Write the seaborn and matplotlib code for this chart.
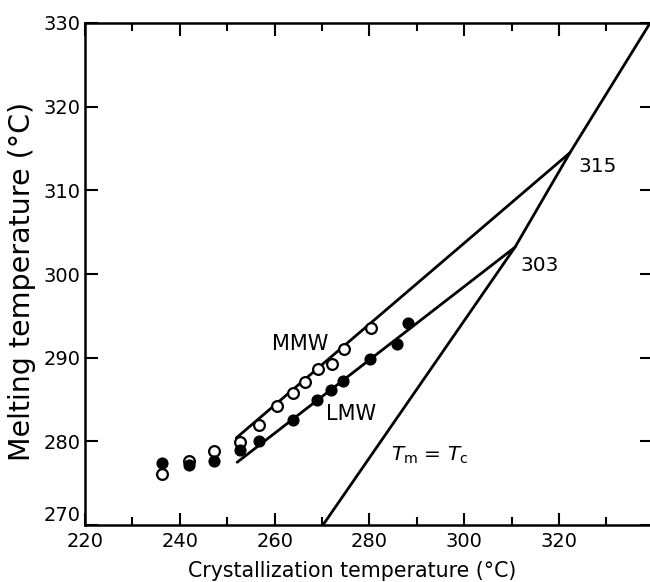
import matplotlib
matplotlib.use('Agg')
import matplotlib.pyplot as plt
import seaborn as sns
from matplotlib.ticker import MultipleLocator

# ---- data ----
mmw_tc = [236.3, 241.9, 247.3, 252.7, 256.6, 260.4, 263.8, 266.5, 269.2, 272.0, 274.7, 280.3]
mmw_tm = [276.1, 277.7, 278.8, 279.9, 282.0, 284.2, 285.8, 287.1, 288.6, 289.3, 291.0, 293.5]
lmw_tc = [236.3, 241.9, 247.3, 252.7, 256.6, 263.8, 268.9, 271.8, 274.5, 280.1, 285.8, 288.2]
lmw_tm = [277.4, 277.2, 277.7, 279.0, 280.0, 282.5, 284.9, 286.1, 287.2, 289.9, 291.6, 294.2]

mmw_fit_tc = [251.9, 322.3]
mmw_fit_tm = [280.4, 314.5]
lmw_fit_tc = [252.1, 310.7]
lmw_fit_tm = [277.5, 303.2]
eq_tc = [270.2, 310.7, 322.3, 339.2]
eq_tm = [270.0, 303.2, 314.5, 330.0]

x_ticks = [220, 240, 260, 280, 300, 320]
y_ticks = [270, 280, 290, 300, 310, 320, 330]

sns.set_style('ticks')
plt.rcParams['font.family'] = ['DejaVu Sans']
plt.rcParams['mathtext.fontset'] = 'dejavusans'
plt.rcParams['text.color'] = 'black'
plt.rcParams['axes.labelcolor'] = 'black'
plt.rcParams['xtick.color'] = 'black'
plt.rcParams['ytick.color'] = 'black'

fig = plt.figure(figsize=(6.5, 5.82), dpi=100)
ax = fig.add_axes([85 / 650, 57 / 582, 567 / 650, 502 / 582])

lw = 2.0
for xs, ys in [(mmw_fit_tc, mmw_fit_tm), (lmw_fit_tc, lmw_fit_tm), (eq_tc, eq_tm)]:
    sns.lineplot(x=xs, y=ys, ax=ax, color='black', linewidth=lw, sort=False,
                 estimator=None, zorder=2)

sns.scatterplot(x=mmw_tc, y=mmw_tm, ax=ax, marker='o', s=60, facecolor='white',
                edgecolor='black', linewidth=1.6, zorder=3)
sns.scatterplot(x=lmw_tc, y=lmw_tm, ax=ax, marker='o', s=60, color='black',
                edgecolor='black', linewidth=1.0, zorder=4)

ax.set_xlim(220, 339.6)
ax.set_ylim(270, 330)
ax.set_xticks(x_ticks)
ax.set_yticks(y_ticks)
ax.xaxis.set_minor_locator(MultipleLocator(10))
ax.tick_params(axis='both', which='major', direction='in', length=9, width=1.5,
               labelsize=14, top=True, right=True, color='black',
               labelcolor='black')
ax.tick_params(axis='x', which='minor', direction='in', length=6, width=1.5,
               top=True, color='black')
ax.tick_params(axis='x', which='major', pad=5)
ax.tick_params(axis='y', which='major', pad=3)
for sp in ax.spines.values():
    sp.set_linewidth(1.8)
    sp.set_color('black')
ax.get_yticklabels()[0].set_verticalalignment('bottom')

ax.set_xlabel('Crystallization temperature (°C)', fontsize=14.8, color='black')
ax.set_ylabel('Melting temperature (°C)', fontsize=20.5, color='black')
ax.xaxis.set_label_coords((352 - 85) / 567, -(571 - 525) / 502 - 0.0)
ax.xaxis.label.set_verticalalignment('center')
ax.yaxis.set_label_coords(-(85 - 22) / 567, (525 - 281) / 502)
ax.yaxis.label.set_verticalalignment('center')

ax.text(265.4, 291.6, 'MMW', fontsize=15, ha='center', va='center')
ax.text(276.1, 283.3, 'LMW', fontsize=15, ha='center', va='center')
ax.text(328.1, 312.8, '315', fontsize=14.5, ha='center', va='center')
ax.text(316.0, 301.0, '303', fontsize=14.5, ha='center', va='center')
ax.text(292.8, 278.3, r'$T_\mathrm{m}$ = $T_\mathrm{c}$', fontsize=14.5,
        ha='center', va='center')

fig.savefig('out.png', dpi=100)
